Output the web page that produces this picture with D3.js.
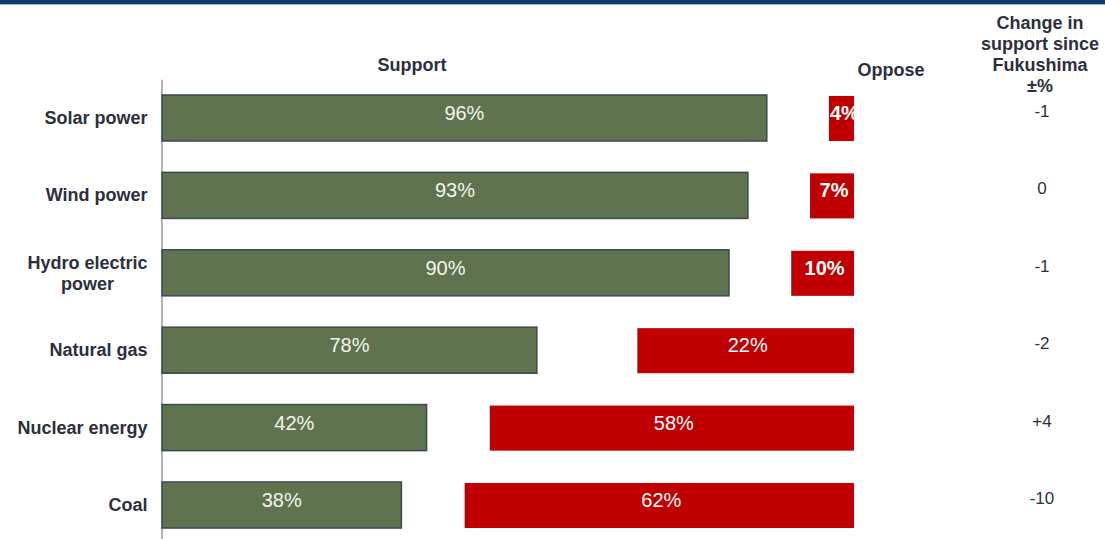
<!DOCTYPE html>
<html>
<head>
<meta charset="utf-8">
<script src="https://cdn.jsdelivr.net/npm/d3@7"></script>
<style>
  body { margin: 0; background: #fff; }
  text { font-family: "Liberation Sans", Arial, sans-serif; }
</style>
</head>
<body>
<svg id="chart" width="1105" height="539"></svg>
<script>
"use strict";

var categories = ["Solar power", "Wind power", "Hydro electric power", "Natural gas", "Nuclear energy", "Coal"];
// percentages printed on the bars
var supportLabels = [96, 93, 90, 78, 42, 38];
var opposeLabels = [4, 7, 10, 22, 58, 62];
// bar lengths as drawn in the source (natural gas bars are drawn shorter than their labels)
var supportBars = [96, 93, 90, 59.5, 42, 38];
var opposeBars = [4, 7, 10, 34.5, 58, 62];
var changeSince = ["-1", "0", "-1", "-2", "+4", "-10"];
var changeHeader = ["Change in", "support since", "Fukushima", "\u00b1%"];

var svg = d3.select("#chart");
var ink = "#2c2f3d";

// top band
svg.append("rect").attr("x", 0).attr("y", 0).attr("width", 1105).attr("height", 4).attr("fill", "#0b3c6c");
svg.append("rect").attr("x", 0).attr("y", 4).attr("width", 1105).attr("height", 1).attr("fill", "#9fb2c8");

var y = d3.scaleBand()
  .domain(categories)
  .range([79.3, 543.7])
  .paddingInner(0.405)
  .paddingOuter(0.2025);

var xs = d3.scaleLinear().domain([0, 100]).range([162, 792]);
var xo = d3.scaleLinear().domain([0, 100]).range([854, 226]);

// category axis
var axis = svg.append("g")
  .attr("transform", "translate(161.5,0)")
  .call(d3.axisLeft(y).tickSize(0).tickPadding(14).tickFormat(""));

axis.select(".domain").attr("stroke", "#9a9a9a").attr("stroke-width", 1.5);

axis.selectAll(".tick").each(function (d) {
  var t = d3.select(this).select("text")
    .attr("fill", ink)
    .attr("font-size", 18)
    .attr("font-weight", "bold")
    .attr("dy", null);
  if (d == "Hydro electric power") {
    t.append("tspan").attr("x", -74).attr("y", -4).attr("text-anchor", "middle").text("Hydro electric");
    t.append("tspan").attr("x", -74).attr("y", 17).attr("text-anchor", "middle").text("power");
  } else {
    t.attr("y", 6).text(d);
  }
});

// support bars
var rows = svg.append("g").selectAll("g").data(categories).enter().append("g");

rows.append("rect")
  .attr("x", xs(0))
  .attr("y", function (d) { return y(d); })
  .attr("width", function (d, i) { return xs(supportBars[i]) - xs(0); })
  .attr("height", y.bandwidth())
  .attr("fill", "#5f734f")
  .attr("stroke", "#3c4955")
  .attr("stroke-width", 1.5);

rows.append("text")
  .attr("x", function (d, i) { return (xs(0) + xs(supportBars[i])) / 2; })
  .attr("y", function (d) { return y(d) + y.bandwidth() / 2 + 2; })
  .attr("text-anchor", "middle")
  .attr("fill", "#f4f4ee")
  .attr("font-size", 20)
  .text(function (d, i) { return supportLabels[i] + "%"; });

// oppose bars
var defs = svg.append("defs");
defs.selectAll("clipPath").data(categories).enter().append("clipPath")
  .attr("id", function (d, i) { return "clip" + i; })
  .append("rect")
  .attr("x", function (d, i) { return xo(opposeBars[i]); })
  .attr("y", function (d) { return y(d); })
  .attr("width", function (d, i) { return xo(0) - xo(opposeBars[i]); })
  .attr("height", y.bandwidth());

rows.append("rect")
  .attr("x", function (d, i) { return xo(opposeBars[i]); })
  .attr("y", function (d) { return y(d) + 1; })
  .attr("width", function (d, i) { return xo(0) - xo(opposeBars[i]); })
  .attr("height", y.bandwidth() - 1)
  .attr("fill", "#c00000");

rows.append("text")
  .attr("clip-path", function (d, i) { return "url(#clip" + i + ")"; })
  .attr("y", function (d) { return y(d) + y.bandwidth() / 2 + 2; })
  .attr("fill", "#fff")
  .attr("font-size", 20)
  .attr("font-weight", function (d, i) { return opposeLabels[i] < 20 ? "bold" : "normal"; })
  .text(function (d, i) { return opposeLabels[i] + "%"; })
  .attr("x", function (d, i) {
    var left = xo(opposeBars[i]);
    var w = this.getComputedTextLength();
    return Math.max(left + 1, (left + xo(0)) / 2 - w / 2 + 2);
  });

// change column
rows.append("text")
  .attr("x", 1042)
  .attr("y", function (d) { return y(d) + y.bandwidth() / 2 - 1; })
  .attr("text-anchor", "middle")
  .attr("fill", ink)
  .attr("font-size", 17)
  .text(function (d, i) { return changeSince[i]; });

// headers
svg.append("text").attr("x", 412).attr("y", 71).attr("text-anchor", "middle")
  .attr("fill", ink).attr("font-size", 18).attr("font-weight", "bold").text("Support");
svg.append("text").attr("x", 891).attr("y", 76).attr("text-anchor", "middle")
  .attr("fill", ink).attr("font-size", 18).attr("font-weight", "bold").text("Oppose");

svg.append("g").selectAll("text").data(changeHeader).enter().append("text")
  .attr("x", 1040)
  .attr("y", function (d, i) { return 29 + i * 21; })
  .attr("text-anchor", "middle")
  .attr("fill", ink)
  .attr("font-size", 18)
  .attr("font-weight", "bold")
  .text(function (d) { return d; });
</script>
</body>
</html>
